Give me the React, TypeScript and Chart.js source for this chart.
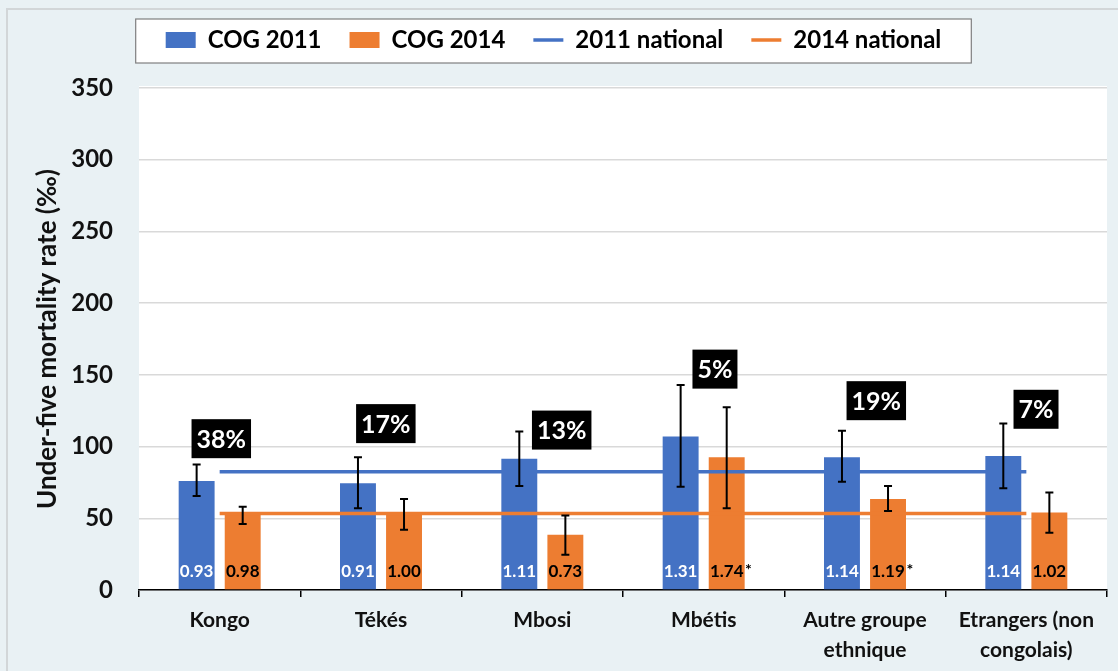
import React, { useEffect, useRef } from "react";
import { Chart, registerables } from "chart.js";

Chart.register(...registerables);

const categories: string[][] = [
  ["Kongo"],
  ["Tékés"],
  ["Mbosi"],
  ["Mbétis"],
  ["Autre groupe", "ethnique"],
  ["Etrangers (non", "congolais)"],
];

const cog2011 = [76, 74.5, 91.5, 107, 92.5, 93.5];
const cog2011Low = [65.5, 57, 72.5, 72, 75.5, 71];
const cog2011High = [87.5, 92.5, 110.5, 143, 111, 116];

const cog2014 = [53.5, 53.5, 38.5, 92.5, 63.5, 54];
const cog2014Low = [46, 42, 24.5, 57, 55, 40];
const cog2014High = [58, 63.5, 52, 127.5, 72.5, 68];

const national2011 = 82.5;
const national2014 = 53.3;

const ratio2011 = ["0.93", "0.91", "1.11", "1.31", "1.14", "1.14"];
const ratio2014 = ["0.98", "1.00", "0.73", "1.74", "1.19", "1.02"];
const ratio2014Significant = [false, false, false, true, true, false];

const shareLabels = ["38%", "17%", "13%", "5%", "19%", "7%"];
// annotation anchors: value (‰) of the box centre and shift in category widths
const shareAnchorValue = [105.5, 116, 111.5, 154, 132, 126];
const shareAnchorShift = [0.01, 0.03, 0.12, 0.07, 0.07, 0.06];

const yTicks = [0, 50, 100, 150, 200, 250, 300, 350];

const BLUE = "#4472C4";
const ORANGE = "#ED7D31";
const FONT = "Lato, 'Open Sans', sans-serif";

export default function App() {
  const ref = useRef<HTMLCanvasElement | null>(null);

  useEffect(() => {
    if (!ref.current) return;

    const legendSpacer = {
      id: "legendSpacer",
      beforeInit(chart: any) {
        const lg = chart.legend;
        if (!lg) return;
        const orig = lg.fit;
        lg.fit = function () {
          orig.call(this);
          this.height += 26;
        };
      },
    };

    const background = {
      id: "background",
      beforeDraw(chart: any) {
        const { ctx, width, height, chartArea: ca } = chart;
        ctx.save();
        ctx.fillStyle = "#E9F1F4";
        ctx.fillRect(0, 0, width, height);
        ctx.strokeStyle = "#d2d6d8";
        ctx.lineWidth = 2;
        ctx.beginPath();
        ctx.moveTo(7, height);
        ctx.lineTo(7, 9);
        ctx.lineTo(width, 9);
        ctx.stroke();
        ctx.fillStyle = "#ffffff";
        ctx.fillRect(ca.left, ca.top - 2, ca.right - ca.left, ca.bottom - ca.top + 2);
        const hb = chart.legend && chart.legend.legendHitBoxes;
        if (hb && hb.length) {
          const first = hb[0];
          const last = hb[hb.length - 1];
          const l = first.left - 30;
          const r = last.left + last.width + 30;
          const cy = first.top + first.height / 2 + 1;
          ctx.fillStyle = "#ffffff";
          ctx.fillRect(l, cy - 22, r - l, 44);
          ctx.strokeStyle = "#7f7f7f";
          ctx.lineWidth = 1.2;
          ctx.strokeRect(l, cy - 22, r - l, 44);
        }
        ctx.restore();
      },
    };

    const errorBars = {
      id: "errorBars",
      afterDatasetsDraw(chart: any) {
        const { ctx } = chart;
        const ys = chart.scales.y;
        const sets = [
          { idx: 0, lo: cog2011Low, hi: cog2011High },
          { idx: 1, lo: cog2014Low, hi: cog2014High },
        ];
        ctx.save();
        ctx.strokeStyle = "#000";
        ctx.lineWidth = 2;
        sets.forEach((s) => {
          const meta = chart.getDatasetMeta(s.idx);
          meta.data.forEach((el: any, j: number) => {
            const x = el.x;
            const yl = ys.getPixelForValue(s.lo[j]);
            const yh = ys.getPixelForValue(s.hi[j]);
            ctx.beginPath();
            ctx.moveTo(x, yl);
            ctx.lineTo(x, yh);
            ctx.moveTo(x - 4, yl);
            ctx.lineTo(x + 4, yl);
            ctx.moveTo(x - 4, yh);
            ctx.lineTo(x + 4, yh);
            ctx.stroke();
          });
        });
        ctx.restore();
      },
    };

    const annotations = {
      id: "annotations",
      afterDatasetsDraw(chart: any) {
        const { ctx, chartArea: ca } = chart;
        const xs = chart.scales.x;
        const ys = chart.scales.y;
        ctx.save();
        ctx.textAlign = "center";
        ctx.textBaseline = "middle";
        const m0 = chart.getDatasetMeta(0);
        const m1 = chart.getDatasetMeta(1);
        const ly = ca.bottom - 18;
        m0.data.forEach((el: any, j: number) => {
          ctx.fillStyle = "#ffffff";
          ctx.font = `bold 17px ${FONT}`;
          ctx.fillText(ratio2011[j], el.x, ly);
        });
        m1.data.forEach((el: any, j: number) => {
          ctx.fillStyle = "#000000";
          ctx.font = `bold 17px ${FONT}`;
          ctx.fillText(ratio2014[j], el.x, ly);
          if (ratio2014Significant[j]) {
            const w = ctx.measureText(ratio2014[j]).width;
            ctx.font = `bold 16px ${FONT}`;
            ctx.fillText("*", el.x + w / 2 + 5, ly - 2);
          }
        });
        const cw = xs.getPixelForValue(1) - xs.getPixelForValue(0);
        ctx.font = `bold 25px ${FONT}`;
        shareLabels.forEach((t, j) => {
          const cx = xs.getPixelForValue(j) + shareAnchorShift[j] * cw;
          const cy = ys.getPixelForValue(shareAnchorValue[j]);
          const w = ctx.measureText(t).width + 10;
          const h = 39;
          ctx.fillStyle = "#000";
          ctx.fillRect(cx - w / 2, cy - h / 2, w, h);
          ctx.fillStyle = "#fff";
          ctx.fillText(t, cx, cy + 1);
        });
        ctx.restore();
      },
    };

    const chart = new Chart(ref.current, {
      type: "bar",
      data: {
        labels: categories,
        datasets: [
          { type: "bar", label: "COG 2011", data: cog2011, backgroundColor: BLUE, order: 1 },
          { type: "bar", label: "COG 2014", data: cog2014, backgroundColor: ORANGE, order: 1 },
          {
            type: "line",
            label: "2011 national",
            data: categories.map(() => national2011),
            borderColor: BLUE,
            backgroundColor: BLUE,
            borderWidth: 3.5,
            pointRadius: 0,
            order: 0,
          },
          {
            type: "line",
            label: "2014 national",
            data: categories.map(() => national2014),
            borderColor: ORANGE,
            backgroundColor: ORANGE,
            borderWidth: 3.5,
            pointRadius: 0,
            order: 0,
          },
        ] as any,
      },
      options: {
        responsive: false,
        animation: false,
        datasets: {
          bar: { categoryPercentage: 0.571, barPercentage: 0.78 },
        },
        layout: { padding: { top: 0, right: 11, bottom: 0, left: 0 } },
        plugins: {
          tooltip: { enabled: false },
          legend: {
            display: true,
            position: "top",
            labels: {
              usePointStyle: true,
              pointStyleWidth: 30,
              boxHeight: 16,
              padding: 28,
              color: "#000",
              font: { family: FONT, size: 24, weight: "bold" },
              generateLabels: (c: any) =>
                c.data.datasets.map((ds: any, i: number) => ({
                  text: ds.label,
                  fillStyle: ds.backgroundColor,
                  strokeStyle: ds.type === "line" ? ds.borderColor : ds.backgroundColor,
                  lineWidth: ds.type === "line" ? 3.5 : 0,
                  pointStyle: ds.type === "line" ? "line" : "rect",
                  hidden: false,
                  datasetIndex: i,
                  fontColor: "#000",
                })),
            },
          },
        },
        scales: {
          x: {
            offset: true,
            afterFit: (s: any) => {
              s.height = 81;
            },
            grid: {
              offset: true,
              display: true,
              drawOnChartArea: false,
              drawTicks: true,
              tickLength: 7,
              color: "#000",
              lineWidth: 1.5,
            },
            border: { display: true, color: "#000", width: 1.5 },
            ticks: {
              padding: 9,
              color: "#111",
              maxRotation: 0,
              autoSkip: false,
              font: { family: FONT, size: 21, weight: "bold", lineHeight: 1.4 },
            },
          },
          y: {
            min: 0,
            max: 350,
            afterFit: (s: any) => {
              s.width = 139;
            },
            afterBuildTicks: (s: any) => {
              s.ticks = yTicks.map((v) => ({ value: v }));
            },
            grid: { color: "#d9d9d9", lineWidth: 1.5, drawTicks: false },
            border: { display: false },
            ticks: {
              padding: 26,
              color: "#111",
              font: { family: FONT, size: 24, weight: "bold" },
            },
            title: {
              display: true,
              text: "Under-five mortality rate (‰)",
              color: "#111",
              padding: { top: 32, bottom: 0 },
              font: { family: FONT, size: 26, weight: "bold" },
            },
          },
        },
      },
      plugins: [legendSpacer, background, errorBars, annotations],
    } as any);

    return () => chart.destroy();
  }, []);

  return (
    <div style={{ position: "fixed", left: 0, top: 0, width: 1118, height: 671 }}>
      <canvas ref={ref} width={1118} height={671} />
    </div>
  );
}
